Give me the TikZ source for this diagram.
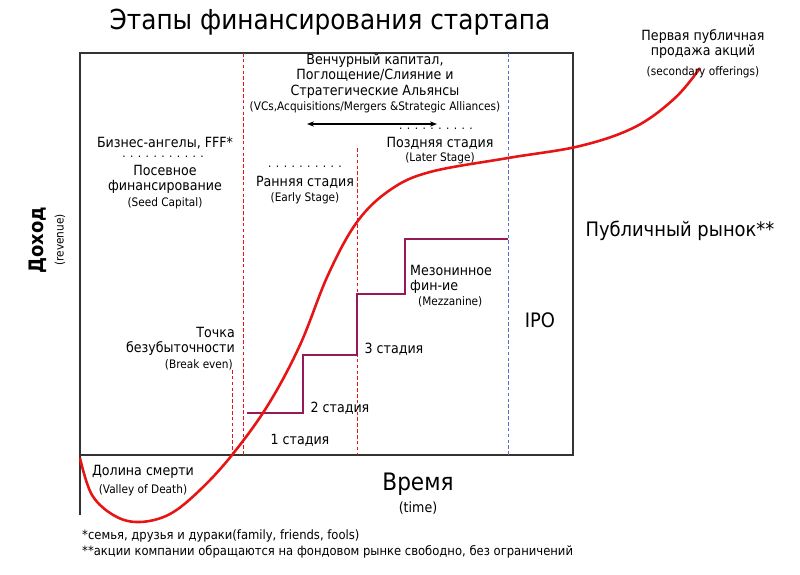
\documentclass[tikz,border=0pt]{standalone}
\usepackage{fontspec}
\setmainfont{DejaVu Sans Condensed}
\usetikzlibrary{arrows.meta}
\definecolor{cred}{RGB}{230,20,20}
\definecolor{stair}{RGB}{150,25,90}
\definecolor{bl}{RGB}{90,110,210}
\tikzset{
 t/.style={inner sep=0pt,align=center,font=\fontsize{12}{13}\selectfont},
 s/.style={inner sep=0pt,align=center,font=\fontsize{10}{11}\selectfont},
 big/.style={inner sep=0pt,align=center,font=\fontsize{17}{19}\selectfont},
 rdash/.style={cred,dash pattern=on 3pt off 2pt,line width=0.8pt},
}
\begin{document}
\begin{tikzpicture}[x=0.03cm,y=-0.03cm]
\useasboundingbox (0,0) rectangle (800,574);
% frame
\draw[line width=1.2pt,black!80] (80,515) -- (80,53) -- (573,53) -- (573,455) -- (80,455);
% dashed lines
\draw[rdash] (243,53) -- (243,455);
\draw[rdash] (357,148) -- (357,455);
\draw[rdash] (232,370) -- (232,455);
\draw[bl,dash pattern=on 3pt off 2pt,line width=0.8pt] (508,53) -- (508,455);
% stairs
\draw[stair,line width=1.3pt] (247,413) -- (303,413) -- (303,355) -- (357,355) -- (357,294) -- (405,294) -- (405,239) -- (508,239);
% curve
\draw[cred,line width=2.2pt] plot[smooth,tension=0.6] coordinates {(80,458) (92,495) (115,516) (140,522) (170,514) (200,490) (232,455) (268,405) (300,345) (328,275) (357,222) (390,190) (430,172) (508,158) (580,146) (635,127) (675,98) (700,68)};
% title
\node[inner sep=0pt,font=\fontsize{23.5}{25}\selectfont] (title) at (330,22) {Этапы финансирования стартапа};
\node[t] (ipo1) at (703,44) {Первая публичная\\продажа акций};
\node[s] (ipo2) at (703,72) {(secondary offerings)};
\node[big] (pub) at (680,231) {Публичный рынок**};
\node[big] (ipo) at (540,320) {IPO};
\node[inner sep=0pt,rotate=90,font=\fontsize{17}{19}\selectfont\bfseries] (rev) at (38,240) {Доход};
\node[s,rotate=90] (rev2) at (60,240) {(revenue)};
\node[inner sep=0pt,font=\fontsize{20.5}{22}\selectfont] (time) at (418,484) {Время};
\node[t] (time2) at (418,508) {(time)};
\node[t] (vd) at (143,472) {Долина смерти};
\node[s] (vd2) at (143,490) {(Valley of Death)};
\node[t,font=\fontsize{12}{13.5}\selectfont] (vc) at (375,76) {Венчурный капитал,\\Поглощение/Слияние и\\Стратегические Альянсы};
\node[s] (vc2) at (375,107) {(VCs,Acquisitions/Mergers \&Strategic Alliances)};
\coordinate (al) at (307,124); \coordinate (ar) at (437,124);
\draw[{Stealth[length=6pt]}-{Stealth[length=6pt]},line width=1.2pt] (al) -- (ar);
\node[s] (ld) at (436,129) {. . . . . . . . . .};
\node[t] (ls) at (440,143) {Поздняя стадия};
\node[s] (ls2) at (440,158) {(Later Stage)};
\node[t] (ba) at (165,143) {Бизнес-ангелы, FFF*};
\node[s] (bd) at (163,157) {. . . . . . . . . . .};
\node[t] (sc) at (165,179) {Посевное\\финансирование};
\node[s] (sc2) at (165,203) {(Seed Capital)};
\node[s] (ed) at (305,167) {. . . . . . . . . .};
\node[t] (es) at (305,182) {Ранняя стадия};
\node[s] (es2) at (305,198) {(Early Stage)};
\node[t,align=right,anchor=east] (be) at (235,341) {Точка\\безубыточности};
\node[s,anchor=east] (be2) at (233,365) {(Break even)};
\node[t,align=left,anchor=west] (mz) at (410,279) {Мезонинное\\фин-ие};
\node[s,anchor=west] (mz2) at (418,302) {(Mezzanine)};
\node[t] (s3) at (394,349) {3 стадия};
\node[t] (s2) at (340,408) {2 стадия};
\node[t] (s1) at (300,440) {1 стадия};
\node[t,anchor=west,align=left,font=\fontsize{11}{13}\selectfont] (fn) at (82,544) {*семья, друзья и дураки(family, friends, fools)\\**акции компании обращаются на фондовом рынке свободно, без ограничений};
\end{tikzpicture}
\end{document}
